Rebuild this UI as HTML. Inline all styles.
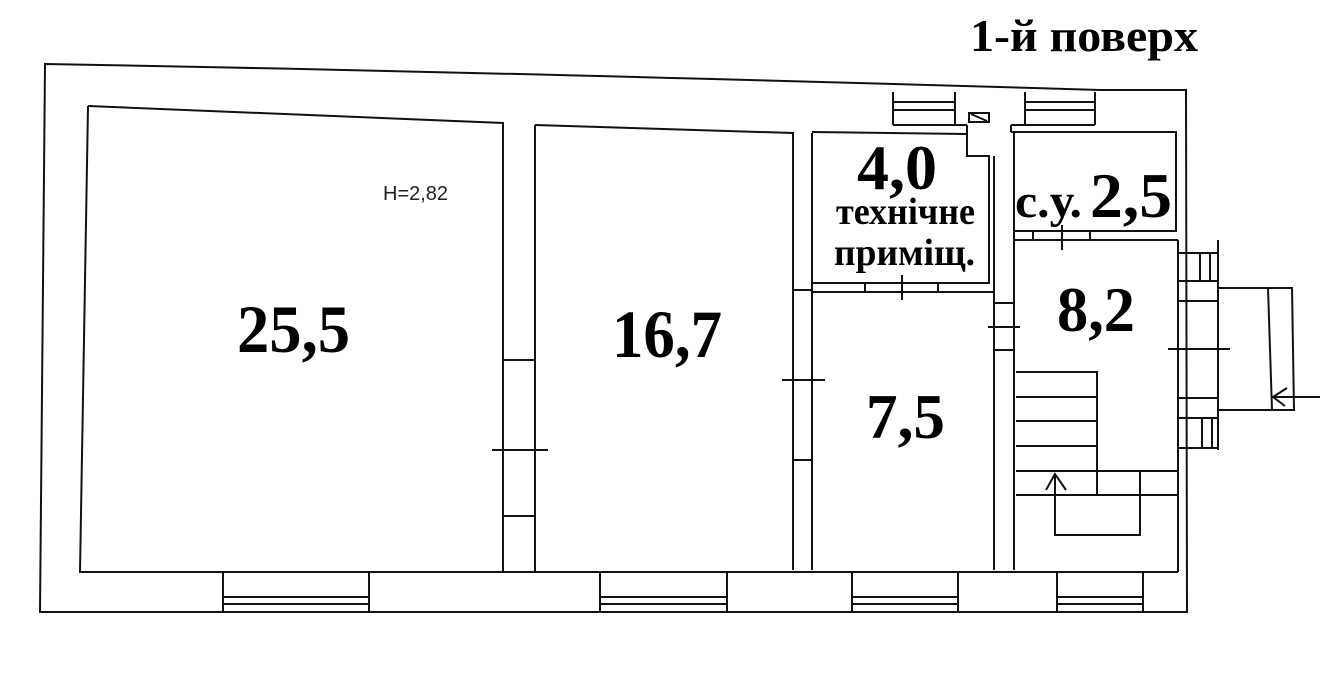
<!DOCTYPE html>
<html><head><meta charset="utf-8"><style>
html,body{margin:0;padding:0;background:#fff;}
svg{display:block;}
.b{font-family:"Liberation Serif",serif;font-weight:bold;fill:#000;}
</style></head><body>
<svg width="1344" height="679" viewBox="0 0 1344 679" xmlns="http://www.w3.org/2000/svg">
<g fill="none" stroke="#111" stroke-width="2">
<path d="M45,64 Q500,72 1100,90 L1186,90 L1187,612 L40,612 Z"/>
<path d="M88,106 Q300,115 503,123 L503,572"/>
<path d="M88,106 L80,572 L1178,572"/>
<path d="M535,125 L793,133 L793,570"/>
<path d="M535,125 L535,572"/>
<line x1="503" y1="360" x2="535" y2="360"/>
<line x1="503" y1="516" x2="535" y2="516"/>
<line x1="492" y1="450" x2="548" y2="450"/>
<line x1="812" y1="133" x2="812" y2="570"/>
<line x1="793" y1="290" x2="812" y2="290"/>
<line x1="793" y1="460" x2="812" y2="460"/>
<line x1="782" y1="380" x2="825" y2="380"/>
<path d="M812,132 L967,134 L967,156 L989,156 L989,283 L812,283"/>
<line x1="812" y1="292" x2="994" y2="292"/>
<line x1="865" y1="283" x2="865" y2="292"/>
<line x1="938" y1="283" x2="938" y2="292"/>
<line x1="902" y1="275" x2="902" y2="300"/>
<line x1="994" y1="156" x2="994" y2="570"/>
<line x1="1014" y1="132" x2="1014" y2="570"/>
<line x1="994" y1="303" x2="1014" y2="303"/>
<line x1="994" y1="350" x2="1014" y2="350"/>
<line x1="988" y1="327" x2="1020" y2="327"/>
<path d="M893,125 L893,92 M955,92 L955,125 M893,102 L955,102 M893,110 L955,110"/>
<path d="M1025,125 L1025,92 M1095,92 L1095,125 M1025,102 L1095,102 M1025,110 L1095,110"/>
<path d="M967,125 L967,134 M1011,125 L1011,132"/>
<path d="M893,125 L967,125 M1011,125 L1095,125"/>
<rect x="969" y="113" width="20" height="9"/>
<line x1="971" y1="114" x2="987" y2="121"/>
<path d="M1011,132 L1176,132 L1176,231 L1014,231"/>
<line x1="1014" y1="240" x2="1178" y2="240"/>
<line x1="1033" y1="231" x2="1033" y2="240"/>
<line x1="1090" y1="231" x2="1090" y2="240"/>
<line x1="1062" y1="225" x2="1062" y2="250"/>
<line x1="1178" y1="240" x2="1178" y2="572"/>
<path d="M1178,253 L1218,253 M1178,281 L1218,281 M1200,253 L1200,281 M1210,253 L1210,281"/>
<path d="M1178,418 L1218,418 M1178,448 L1218,448 M1202,418 L1202,448 M1212,418 L1212,448"/>
<line x1="1178" y1="301" x2="1218" y2="301"/>
<line x1="1178" y1="398" x2="1218" y2="398"/>
<line x1="1168" y1="349" x2="1230" y2="349"/>
<line x1="1218" y1="240" x2="1218" y2="288"/>
<line x1="1218" y1="410" x2="1218" y2="450"/>
<path d="M1218,288 L1292,288 L1294,410 L1218,410 Z"/>
<line x1="1268" y1="288" x2="1272" y2="410"/>
<line x1="1272" y1="397" x2="1320" y2="397"/>
<path d="M1287,388 L1273,397 L1285,406"/>
<path d="M1016,372 L1097,372 L1097,495"/>
<line x1="1016" y1="397" x2="1097" y2="397"/>
<line x1="1016" y1="421" x2="1097" y2="421"/>
<line x1="1016" y1="446" x2="1097" y2="446"/>
<line x1="1016" y1="471" x2="1178" y2="471"/>
<line x1="1016" y1="495" x2="1178" y2="495"/>
<path d="M1055,474 L1055,535 L1140,535 L1140,471"/>
<path d="M1046,490 L1055,474 L1066,490"/>
<path d="M223,572 V612 M369,572 V612 M223,597 H369 M223,604 H369"/>
<path d="M600,572 V612 M727,572 V612 M600,597 H727 M600,604 H727"/>
<path d="M852,572 V612 M958,572 V612 M852,597 H958 M852,604 H958"/>
<path d="M1057,572 V612 M1143,572 V612 M1057,597 H1143 M1057,604 H1143"/>
</g>
<text class="b" x="970" y="51" font-size="46" textLength="228" lengthAdjust="spacingAndGlyphs">1-й поверх</text>
<text class="b" x="237" y="352" font-size="68" textLength="113" lengthAdjust="spacingAndGlyphs">25,5</text>
<text class="b" x="612" y="357" font-size="68" textLength="110" lengthAdjust="spacingAndGlyphs">16,7</text>
<text class="b" x="857" y="189" font-size="64" textLength="80" lengthAdjust="spacingAndGlyphs">4,0</text>
<text class="b" x="836" y="224" font-size="38" textLength="139" lengthAdjust="spacingAndGlyphs">технічне</text>
<text class="b" x="834" y="265" font-size="38" textLength="141" lengthAdjust="spacingAndGlyphs">приміщ.</text>
<text class="b" x="1015" y="217" font-size="48" textLength="67" lengthAdjust="spacingAndGlyphs">с.у.</text>
<text class="b" x="1090" y="217" font-size="64" textLength="82" lengthAdjust="spacingAndGlyphs">2,5</text>
<text class="b" x="1057" y="331" font-size="64" textLength="78" lengthAdjust="spacingAndGlyphs">8,2</text>
<text class="b" x="866" y="438" font-size="64" textLength="79" lengthAdjust="spacingAndGlyphs">7,5</text>
<text x="383" y="200" font-family="Liberation Sans, sans-serif" font-size="20" fill="#222">H=2,82</text>
</svg>
</body></html>
